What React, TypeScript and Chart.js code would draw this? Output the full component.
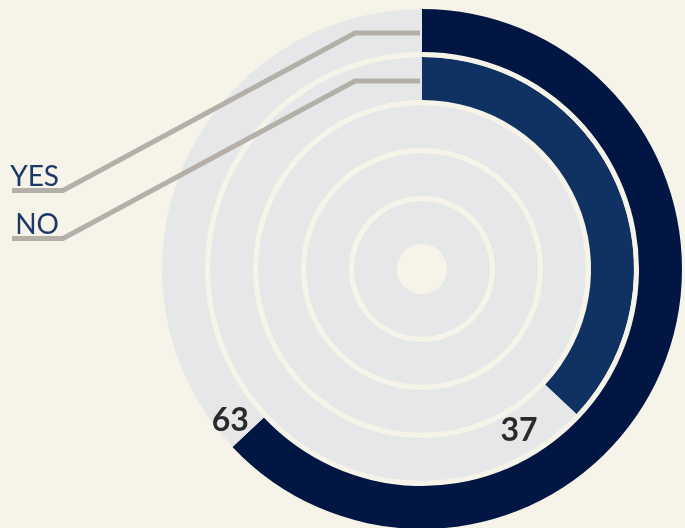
import React, { useEffect, useRef } from "react";
import { Chart, registerables } from "chart.js";

Chart.register(...registerables);

const categories = ["YES", "NO"];
const percentValues = [63, 37];
const emptyRings = 3;

const CREAM = "#F6F4E9";
const GREY = "#E6E7E9";
const ringColors = ["#011642", "#0F3263"];
const LEADER = "#B4B0A9";
const LABEL_COLOR = "#1C3866";
const NUMBER_COLOR = "#2A2A2A";

const RING_W = 43;
const GAP_W = 5;

function buildDatasets() {
  const ds: any[] = [];
  const total = categories.length + emptyRings;
  for (let i = 0; i < total; i++) {
    if (i < categories.length) {
      ds.push({
        label: categories[i],
        data: [percentValues[i], 100 - percentValues[i]],
        backgroundColor: [ringColors[i], GREY],
        borderWidth: 0,
        weight: RING_W,
      });
    } else {
      ds.push({
        label: "empty" + i,
        data: [100],
        backgroundColor: [GREY],
        borderWidth: 0,
        weight: RING_W,
      });
    }
    if (i < total - 1) {
      ds.push({
        label: "gap" + i,
        data: [100],
        backgroundColor: [CREAM],
        borderWidth: 0,
        weight: GAP_W,
      });
    }
  }
  return ds;
}

const labelAngleOffsets = [5, 15.7];
const labelRadiusShift = [5.5, -2.5];

const overlayPlugin = {
  id: "overlay",
  afterDatasetsDraw(chart: any) {
    const ctx = chart.ctx;
    ctx.save();
    for (let i = 0; i < categories.length; i++) {
      const meta = chart.getDatasetMeta(i * 2);
      const arc = meta.data[0];
      const { x, y, innerRadius, outerRadius, endAngle } = arc.getProps(
        ["x", "y", "innerRadius", "outerRadius", "endAngle"],
        true
      );
      const mid = (innerRadius + outerRadius) / 2;
      // leader line
      const ly = y - mid + 2.5;
      const bendX = x - 67;
      const endY = ly + 157.5;
      ctx.beginPath();
      ctx.strokeStyle = LEADER;
      ctx.lineWidth = 5;
      ctx.lineJoin = "miter";
      ctx.moveTo(x - 2, ly);
      ctx.lineTo(bendX, ly);
      ctx.lineTo(63, endY);
      ctx.lineTo(12, endY);
      ctx.stroke();
      // category label
      ctx.fillStyle = LABEL_COLOR;
      ctx.font = "400 28px Lato";
      ctx.textAlign = "right";
      ctx.textBaseline = "alphabetic";
      ctx.fillText(categories[i], 59, endY - 4.5);
      // value label
      const a = endAngle + (labelAngleOffsets[i] * Math.PI) / 180;
      const r = mid + labelRadiusShift[i];
      ctx.fillStyle = NUMBER_COLOR;
      ctx.font = "700 32px Lato";
      ctx.textAlign = "center";
      ctx.textBaseline = "middle";
      ctx.fillText(String(percentValues[i]), x + r * Math.cos(a), y + r * Math.sin(a) + 1);
    }
    ctx.restore();
  },
};

export default function App() {
  const ref = useRef<HTMLCanvasElement | null>(null);
  useEffect(() => {
    if (!ref.current) return;
    const chart = new Chart(ref.current, {
      type: "doughnut",
      data: { labels: ["value", "rest"], datasets: buildDatasets() },
      options: {
        responsive: false,
        animation: false,
        events: [],
        devicePixelRatio: 1,
        radius: 260,
        cutout: 25,
        layout: { padding: { left: 162, right: 3, top: 10, bottom: 0 } },
        plugins: { legend: { display: false }, tooltip: { enabled: false } },
      } as any,
      plugins: [overlayPlugin],
    });
    return () => chart.destroy();
  }, []);
  return (
    <div
      style={{
        position: "absolute",
        left: 0,
        top: 0,
        width: 685,
        height: 528,
        background: CREAM,
        overflow: "hidden",
      }}
    >
      <canvas ref={ref} width={685} height={528} style={{ display: "block" }} />
    </div>
  );
}
